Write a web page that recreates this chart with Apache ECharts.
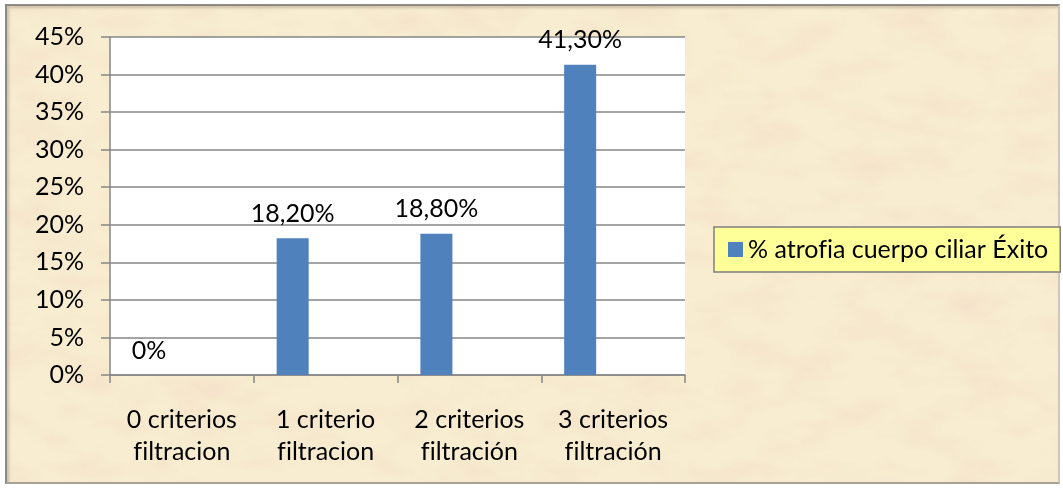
<!DOCTYPE html>
<html>
<head>
<meta charset="utf-8">
<script src="https://cdn.jsdelivr.net/npm/echarts@6/dist/echarts.min.js"></script>
<style>
  html, body { margin: 0; padding: 0; background: #ffffff; }
  #frame {
    position: absolute; left: 5px; top: 4px; width: 1051px; height: 476px;
    border: 2px solid #8e8b86;
    border-right-color: #cfc8ba; border-bottom-color: #a8a195;
    background-color: #f8edd0;
    background-image: url("data:image/svg+xml,%3Csvg xmlns='http://www.w3.org/2000/svg' width='1051' height='476'%3E%3Cfilter id='p'%3E%3CfeTurbulence type='fractalNoise' baseFrequency='0.018 0.035' numOctaves='4' seed='7'/%3E%3CfeColorMatrix values='0 0 0 0 0.90 0 0 0 0 0.74 0 0 0 0 0.58 1.5 0 0 0 -0.62'/%3E%3C/filter%3E%3Crect width='100%25' height='100%25' filter='url(%23p)'/%3E%3C/svg%3E");
    box-shadow: inset 2px 2px 3px rgba(120,110,95,0.35);
  }
  #chart { position: absolute; left: 0; top: 0; width: 1063px; height: 488px; }
</style>
</head>
<body>
<div id="frame"></div>
<div id="chart"></div>
<script>
// Percent of ciliary body atrophy among successful cases, by number of filtration criteria
const categories = ['0 criterios\nfiltracion', '1 criterio\nfiltracion', '2 criterios\nfiltración', '3 criterios\nfiltración'];
const seriesName = '% atrofia cuerpo ciliar Éxito';
const atrofiaPct = [0, 18.2, 18.8, 41.3];
const yTicks = [0, 5, 10, 15, 20, 25, 30, 35, 40, 45];

const FONT = 'Lato, "Open Sans", sans-serif';
const FONT_SIZE = 25;
const GRID_GRAY = '#868686';

// keep "f" and "i" as separate glyphs (no ligature)
const noLig = s => s.replace(/fi/g, 'f\u200Ci');

function pctLabel(v) {
  return v === 0 ? '0%' : v.toFixed(2).replace('.', ',') + '%';
}

const chart = echarts.init(document.getElementById('chart'), null, { renderer: 'canvas' });
chart.setOption({
  backgroundColor: 'transparent',
  animation: false,
  textStyle: { fontFamily: FONT, color: '#000' },
  grid: {
    left: 110, top: 37, width: 575, height: 338,
    show: true, backgroundColor: '#ffffff', borderWidth: 0
  },
  legend: {
    data: [seriesName],
    left: 714, top: 227,
    orient: 'vertical',
    backgroundColor: '#ffff99',
    borderColor: '#7f7f7f', borderWidth: 1.5, borderRadius: 0,
    padding: [10, 12, 10, 14],
    itemWidth: 15, itemHeight: 15, itemGap: 6,
    icon: 'rect',
    formatter: name => noLig(name),
    textStyle: { fontFamily: FONT, fontSize: FONT_SIZE, color: '#000' }
  },
  xAxis: {
    type: 'category',
    data: categories,
    axisLine: { show: true, lineStyle: { color: GRID_GRAY, width: 1.5 } },
    axisTick: { show: true, alignWithLabel: false, length: 8, lineStyle: { color: GRID_GRAY, width: 1.5 } },
    axisLabel: {
      margin: 29, fontSize: FONT_SIZE, lineHeight: 32, color: '#000', fontFamily: FONT, interval: 0,
      formatter: v => noLig(v)
    }
  },
  yAxis: {
    type: 'value',
    min: yTicks[0], max: yTicks[yTicks.length - 1], interval: 5,
    axisLine: { show: true, lineStyle: { color: GRID_GRAY, width: 1.5 } },
    axisTick: { show: true, length: 9, lineStyle: { color: GRID_GRAY, width: 1.5 } },
    splitLine: { show: true, lineStyle: { color: GRID_GRAY, width: 1.5 } },
    axisLabel: { margin: 26, fontSize: FONT_SIZE, color: '#000', fontFamily: FONT, formatter: v => v + '%' }
  },
  series: [
    {
      name: seriesName,
      type: 'bar',
      data: atrofiaPct,
      barWidth: 32,
      barGap: '106%',
      itemStyle: { color: '#4f81bd' },
      label: {
        show: true, position: 'top', distance: 12,
        fontSize: FONT_SIZE, color: '#000', fontFamily: FONT,
        formatter: p => pctLabel(p.value)
      }
    },
    {
      name: 'hueco',
      type: 'bar',
      data: atrofiaPct.map(() => null),
      barWidth: 32,
      itemStyle: { color: 'transparent' }
    }
  ]
});
</script>
</body>
</html>
